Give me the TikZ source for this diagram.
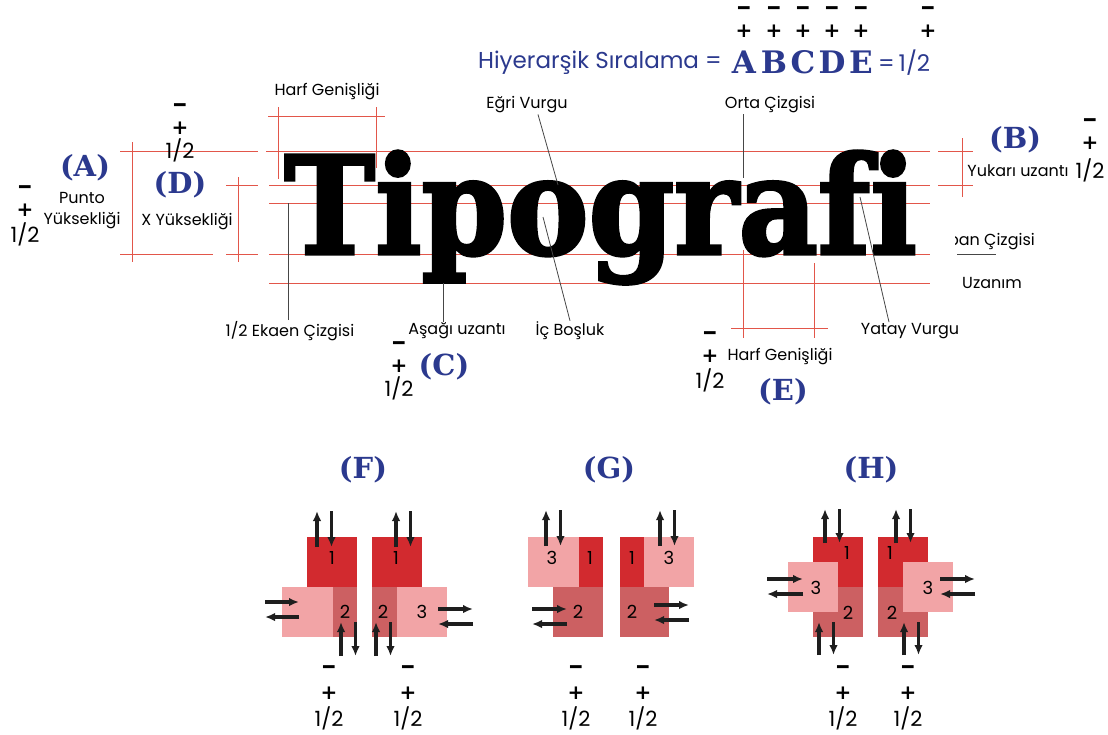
\documentclass[tikz,border=0pt]{standalone}
\usepackage{fontspec}
\usepackage{graphicx}
\setmainfont{Poppins}
\newfontfamily\tagfont{DejaVu Serif}[Ligatures=NoCommon]
\newfontfamily\wordfont{DejaVu Serif}[Ligatures=NoCommon, BoldFeatures={FakeBold=2.5}]
\newfontfamily\signfont{DejaVu Sans}
\usetikzlibrary{positioning, arrows.meta}

\definecolor{tagblue}{RGB}{43,57,142}
\definecolor{guidered}{RGB}{226,86,74}
\definecolor{leadergray}{RGB}{70,70,70}
\definecolor{arrowblack}{RGB}{30,30,30}
\definecolor{redA}{RGB}{210,42,47}
\definecolor{redB}{RGB}{204,96,98}
\definecolor{redC}{RGB}{242,164,166}

\tikzset{
  lbl/.style={font=\fontsize{16}{21}\selectfont, inner sep=1pt},
  guide/.style={draw=guidered, line width=0.9pt},
  leader/.style={draw=leadergray, line width=0.8pt},
  tag/.style={font=\tagfont\bfseries\fontsize{29}{30}\selectfont, text=tagblue, inner sep=0pt},
  sgnm/.style={font=\bfseries\fontsize{21}{21}\selectfont, inner sep=0pt},
  sgnp/.style={font=\signfont\bfseries\fontsize{20}{20}\selectfont, inner sep=0pt},
  half/.style={font=\fontsize{21}{22}\selectfont, inner sep=0pt},
  num/.style={font=\fontsize{18}{18}\selectfont, inner sep=0pt},
  arr/.style={-{Latex[length=10pt,width=8.5pt]}, line width=3.2pt, draw=arrowblack},
}

% ust ve alt isaretler: eksi, arti, 1/2
\newcommand{\pmhalf}[5]{%
  \node[sgnm] (#1m) at (#2,#3) {–};
  \node[sgnp] (#1p) at (#2,#4) {+};
  \node[half] (#1h) at (#2,#5) {1/2};}
% dikey ok cifti (yukari, asagi)
\newcommand{\vpair}[3]{%
  \draw[arr] (#1,#3) -- (#1,#2);
  \draw[arr] (#1+14.5,#2) -- (#1+14.5,#3);}
% yatay ok cifti (saga, sola)
\newcommand{\hpair}[3]{%
  \draw[arr] (#1,#3) -- (#2,#3);
  \draw[arr] (#2,#3+15) -- (#1,#3+15);}

\begin{document}
\begin{tikzpicture}[x=1pt, y=-1pt]
  \useasboundingbox (0,0) rectangle (1108,734);

  % --- Kilavuz cizgileri ---
  \draw[guide] (120,151) -- (258,151) (266,151) -- (930,151) (938,151) -- (973,151);
  \draw[guide] (226,185) -- (258,185) (269,185) -- (930,185) (938,185) -- (973,185);
  \draw[guide] (269,203) -- (930,203);
  \draw[guide] (120,254) -- (213,254) (226,254) -- (258,254) (269,254) -- (930,254);
  \draw[guide] (269,283) -- (930,283);
  \draw[guide] (132,142) -- (132,262);
  \draw[guide] (238,177) -- (238,262);
  \draw[guide] (962,138) -- (962,197);
  \draw[guide] (268,116) -- (385,116) (278,107) -- (278,179) (376,107) -- (376,168);
  \draw[guide] (731,328) -- (828,328) (743,250) -- (743,338) (814,263) -- (814,338);

  % --- Ornek kelime ---
  \node[inner sep=0pt, anchor=base west] (word) at (284,254)
    {\resizebox{632pt}{103pt}{\wordfont\bfseries Tipografi}};

  % --- Etiketler ---
  \node[lbl] (harfTop) at (327,92) {Harf Genişliği};
  \node[lbl, align=center] (punto) at (82,211) {Punto\\Yüksekliği};
  \node[lbl] (xyuk) at (187,222) {X Yüksekliği};
  \node[lbl] (ekaen) at (290,331) {1/2 Ekaen Çizgisi};
  \node[lbl] (asagi) at (457,331) {Aşağı uzantı};
  \node[lbl] (icb) at (570,331) {İç Boşluk};
  \node[lbl] (egri) at (527,105) {Eğri Vurgu};
  \node[lbl] (orta) at (770,105) {Orta Çizgisi};
  \node[lbl] (yukari) at (1018,171) {Yukarı uzantı};
  \node[lbl] (uzanim) at (992,283) {Uzanım};
  \node[lbl] (harfBot) at (780,357) {Harf Genişliği};
  \node[lbl] (yatay) at (910,331) {Yatay Vurgu};
  \begin{scope}
    \clip (955,220) rectangle (1060,265);
    \node[lbl, anchor=east] (taban) at (1036,242) {Taban Çizgisi};
  \end{scope}
  \draw[leader] (957,254) -- (996,254);

  % --- Gosterge cizgileri ---
  \coordinate (ekaenEnd) at (288,203);
  \coordinate (asagiEnd) at (443,283);
  \coordinate (icbEnd) at (543,217);
  \coordinate (egriEnd) at (558,185);
  \coordinate (ortaEnd) at (743,178);
  \coordinate (yatayEnd) at (860,197);
  \draw[leader] (ekaen.north -| ekaenEnd) -- (ekaenEnd);
  \draw[leader] (asagi.north -| asagiEnd) -- (asagiEnd);
  \draw[leader] (icb.north) -- (icbEnd);
  \draw[leader] ([xshift=11pt]egri.south) -- (egriEnd);
  \draw[leader] (orta.south -| ortaEnd) -- (ortaEnd);
  \draw[leader] ([xshift=-21pt]yatay.north) -- (yatayEnd);

  % --- Harf etiketleri ---
  \node[tag] (tA) at (85,168) {(A)};
  \node[tag] (tD) at (180,185) {(D)};
  \node[tag] (tB) at (1015,140) {(B)};
  \node[tag] (tC) at (444,367) {(C)};
  \node[tag] (tE) at (783,392) {(E)};
  \pmhalf{sA}{25}{190}{210}{234}
  \pmhalf{sD}{180}{108}{128}{150}
  \pmhalf{sB}{1090}{123}{143}{170}
  \pmhalf{sC}{399}{346}{366}{388}
  \pmhalf{sE}{710}{336}{356}{380}

  % --- Hiyerarsi satiri ---
  \node[font=\fontsize{23}{24}\selectfont, text=tagblue, anchor=east, inner sep=0pt] (hier) at (722,63) {Hiyerarşik Sıralama =};
  \foreach \L/\X in {A/744, B/774, C/803, D/832, E/861} {
    \node[tag, font=\tagfont\bfseries\fontsize{31}{32}\selectfont] (h\L) at (\X,62) {\L};
    \node[sgnm] (h\L m) at (\X,11) {–};
    \node[sgnp] (h\L p) at (\X,31) {+};
  }
  \node[font=\fontsize{23}{24}\selectfont, text=tagblue, anchor=west, inner sep=0pt] (hHalf) at (878,63) {=\,1/2};
  \node[sgnm] (hZm) at (928,11) {–};
  \node[sgnp] (hZp) at (928,31) {+};

  % --- (F) ---
  \node[tag] (tF) at (363,470) {(F)};
  \fill[redA] (307,537) rectangle (357,587);
  \fill[redC] (282,587) rectangle (333,637);
  \fill[redB] (333,587) rectangle (357,637);
  \fill[redA] (372,537) rectangle (422,587);
  \fill[redB] (372,587) rectangle (397,637);
  \fill[redC] (397,587) rectangle (447,637);
  \node[num] (f1a) at (332,558) {1};
  \node[num] (f2a) at (345,612) {2};
  \node[num] (f1b) at (396,558) {1};
  \node[num] (f2b) at (383,612) {2};
  \node[num] (f3b) at (422,612) {3};
  \vpair{317}{511}{547}
  \vpair{396}{511}{547}
  \hpair{265}{299}{602}
  \hpair{438}{473}{609}
  \vpair{341}{622}{656}
  \vpair{376}{622}{656}
  \pmhalf{sF1}{329}{670}{693}{718}
  \pmhalf{sF2}{408}{670}{693}{718}

  % --- (G) ---
  \node[tag] (tG) at (609,470) {(G)};
  \fill[redC] (528,537) rectangle (579,587);
  \fill[redA] (579,537) rectangle (603,587);
  \fill[redB] (553,587) rectangle (603,637);
  \fill[redA] (620,537) rectangle (644,587);
  \fill[redC] (644,537) rectangle (694,587);
  \fill[redB] (620,587) rectangle (669,637);
  \node[num] (g3a) at (552,558) {3};
  \node[num] (g1a) at (590,558) {1};
  \node[num] (g2a) at (578,612) {2};
  \node[num] (g1b) at (632,558) {1};
  \node[num] (g3b) at (669,558) {3};
  \node[num] (g2b) at (632,612) {2};
  \vpair{546}{510}{546}
  \vpair{660}{510}{546}
  \hpair{532}{567}{609}
  \hpair{654}{689}{605}
  \pmhalf{sG1}{576}{670}{693}{718}
  \pmhalf{sG2}{643}{670}{693}{718}

  % --- (H) ---
  \node[tag] (tH) at (871,470) {(H)};
  \fill[redA] (813,537) rectangle (863,587);
  \fill[redB] (813,587) rectangle (863,637);
  \fill[redC] (788,562) rectangle (838,612);
  \fill[redA] (878,537) rectangle (928,587);
  \fill[redB] (878,587) rectangle (928,637);
  \fill[redC] (903,562) rectangle (953,612);
  \node[num] (h1a) at (847,553) {1};
  \node[num] (h3a) at (816,588) {3};
  \node[num] (h2a) at (848,613) {2};
  \node[num] (h1b) at (890,553) {1};
  \node[num] (h3b) at (928,588) {3};
  \node[num] (h2b) at (892,613) {2};
  \vpair{825}{509}{543}
  \vpair{896}{509}{543}
  \hpair{767}{803}{579}
  \hpair{940}{975}{579}
  \vpair{819}{622}{655}
  \vpair{904}{622}{655}
  \pmhalf{sH1}{843}{670}{693}{718}
  \pmhalf{sH2}{908}{670}{693}{718}
\end{tikzpicture}
\end{document}
